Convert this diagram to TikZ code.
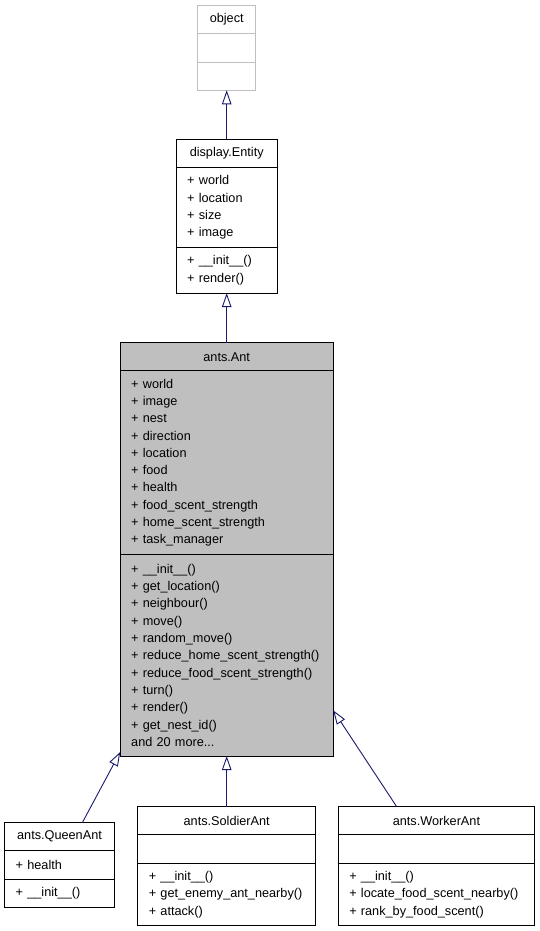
\documentclass[tikz,border=0pt]{standalone}
\usepackage{fontspec}
\setmainfont{Liberation Sans}
\usetikzlibrary{positioning,arrows.meta}
\definecolor{midnight}{HTML}{191970}
\definecolor{grey75}{HTML}{BFBFBF}

\begin{document}
\begin{tikzpicture}[x=1pt,y=-1pt,node distance=0pt,
			every node/.style={font=\fontsize{12.7}{17.3}\selectfont,inner sep=0pt,outer sep=0pt},
			class title/.style={draw,line width=0.9pt,minimum height=28pt,align=center},
			class part/.style={draw,line width=0.9pt,align=left,inner xsep=11pt,text width=#1},
			parent edge/.style={color=midnight,line width=0.9pt,-{Triangle[open,length=14pt,width=9.5pt]}}]
			
			\useasboundingbox (0,0) rectangle (539,931);
			
			% object
			\node[class title,draw=grey75,minimum width=58.4pt] (objT) at (226.7,19.7) {object};
			\node[class part=36.4pt,draw=grey75,minimum height=28.3pt] (objA) [below=of objT] {};
			\node[class part=36.4pt,draw=grey75,minimum height=28.3pt] (objM) [below=of objA] {};
			
			% display.Entity
			\node[class title,minimum width=101pt] (entT) at (226.7,153.3) {display.Entity};
			\node[class part=79pt,minimum height=80.2pt] (entA) [below=of entT]
			{+ world\\+ location\\+ size\\+ image};
			\node[class part=79pt,minimum height=45.6pt] (entM) [below=of entA]
			{+ \_\_init\_\_()\\+ render()};
			
			% ants.Ant
			\node[class title,fill=grey75,minimum width=213pt] (antT) at (226.7,356.7) {ants.Ant};
			\node[class part=191pt,fill=grey75,minimum height=184pt] (antA) [below=of antT]
			{+ world\\+ image\\+ nest\\+ direction\\+ location\\+ food\\+ health\\+ food\_scent\_strength\\+ home\_scent\_strength\\+ task\_manager};
			\node[class part=191pt,fill=grey75,minimum height=201.3pt] (antM) [below=of antA]
			{+ \_\_init\_\_()\\+ get\_location()\\+ neighbour()\\+ move()\\+ random\_move()\\+ reduce\_home\_scent\_strength()\\+ reduce\_food\_scent\_strength()\\+ turn()\\+ render()\\+ get\_nest\_id()\\and 20 more...};
			
			% ants.QueenAnt
			\node[class title,minimum width=109.6pt] (queenT) at (59.5,836.7) {ants.QueenAnt};
			\node[class part=87.6pt,minimum height=28.3pt] (queenA) [below=of queenT] {+ health};
			\node[class part=87.6pt,minimum height=28.3pt] (queenM) [below=of queenA] {+ \_\_init\_\_()};
			
			% ants.SoldierAnt
			\node[class title,minimum width=177.8pt] (soldierT) at (226.7,820.7) {ants.SoldierAnt};
			\node[class part=155.8pt,minimum height=28.3pt] (soldierA) [below=of soldierT] {};
			\node[class part=155.8pt,minimum height=62.9pt] (soldierM) [below=of soldierA]
			{+ \_\_init\_\_()\\+ get\_enemy\_ant\_nearby()\\+ attack()};
			
			% ants.WorkerAnt
			\node[class title,minimum width=196.2pt] (workerT) at (436.4,820.7) {ants.WorkerAnt};
			\node[class part=174.2pt,minimum height=28.3pt] (workerA) [below=of workerT] {};
			\node[class part=174.2pt,minimum height=62.9pt] (workerM) [below=of workerA]
			{+ \_\_init\_\_()\\+ locate\_food\_scent\_nearby()\\+ rank\_by\_food\_scent()};
			
			\path[parent edge]
			(entT.north) edge (objM.south)
			(antT.north) edge (entM.south)
			(soldierT.north) edge (antM.south)
			([xshift=22.8pt]queenT.north) edge ([yshift=4pt]antM.south west)
			([xshift=-39.7pt]workerT.north) edge ([yshift=45.7pt]antM.south east)
			;
\end{tikzpicture}
\end{document}
